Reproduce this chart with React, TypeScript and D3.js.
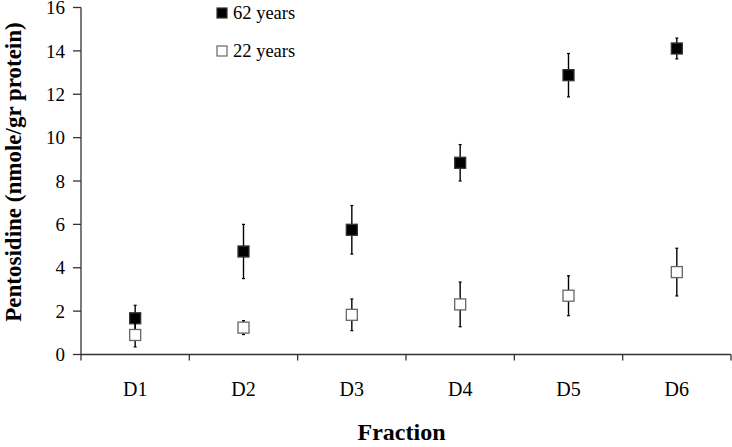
import React from "react";
import * as d3 from "d3";

const categories = ["D1", "D2", "D3", "D4", "D5", "D6"];
const old62Mean = [1.67, 4.75, 5.75, 8.84, 12.88, 14.11];
const old62Err = [0.6, 1.25, 1.12, 0.84, 1.0, 0.48];
const young22Mean = [0.9, 1.24, 1.83, 2.31, 2.71, 3.8];
const young22Err = [0.55, 0.32, 0.73, 1.03, 0.92, 1.1];
const yTicks = [0, 2, 4, 6, 8, 10, 12, 14, 16];
const legendLabels = ["62 years", "22 years"];

const W = 732;
const H = 447;
const left = 81;
const right = 731;
const top = 7.5;
const bottom = 354.5;

export default function App() {
  const x = d3.scaleBand<string>().domain(categories).range([left, right]);
  const y = d3.scaleLinear().domain([0, 16]).range([bottom, top]);
  const font = "'Liberation Serif', 'Times New Roman', serif";
  const ms = 11;
  const cap = 3;

  const series = [
    { mean: old62Mean, err: old62Err, fill: "#000", stroke: "#333" },
    { mean: young22Mean, err: young22Err, fill: "#fff", stroke: "#666" },
  ];

  return (
    <svg
      width={W}
      height={H}
      style={{ position: "absolute", left: 0, top: 0, background: "#fff" }}
      fontFamily={font}
    >
      {/* axes */}
      <line x1={left} x2={left} y1={top} y2={bottom} stroke="#333" strokeWidth={1.3} />
      <line x1={left} x2={right} y1={bottom} y2={bottom} stroke="#333" strokeWidth={1.3} />
      {yTicks.map((t) => (
        <g key={t}>
          <line x1={left - 8} x2={left} y1={y(t)} y2={y(t)} stroke="#333" strokeWidth={1.3} />
          <text x={65} y={y(t)} dy="0.35em" textAnchor="end" fontSize={19}>
            {t}
          </text>
        </g>
      ))}
      {categories.map((c) => (
        <line
          key={"t" + c}
          x1={x(c)!}
          x2={x(c)!}
          y1={bottom}
          y2={bottom + 6}
          stroke="#333"
          strokeWidth={1.3}
        />
      ))}
      <line x1={right} x2={right} y1={bottom} y2={bottom + 6} stroke="#333" strokeWidth={1.3} />
      {categories.map((c) => (
        <text
          key={"l" + c}
          x={x(c)! + x.bandwidth() / 2}
          y={396}
          textAnchor="middle"
          fontSize={20}
        >
          {c}
        </text>
      ))}
      <text x={401.5} y={440} textAnchor="middle" fontSize={24} fontWeight="bold">
        Fraction
      </text>
      <text
        transform={`translate(13,172) rotate(-90)`}
        dy="0.35em"
        textAnchor="middle"
        fontSize={23}
        fontWeight="bold"
      >
        Pentosidine (nmole/gr protein)
      </text>

      {/* data */}
      {series.map((s, si) =>
        categories.map((c, i) => {
          const cx = x(c)! + x.bandwidth() / 2;
          const m = s.mean[i];
          const e = s.err[i];
          return (
            <g key={si + c}>
              <line x1={cx} x2={cx} y1={y(m + e)} y2={y(m - e)} stroke="#000" strokeWidth={1.4} />
              <line x1={cx - cap / 2} x2={cx + cap / 2} y1={y(m + e)} y2={y(m + e)} stroke="#000" strokeWidth={1.2} />
              <line x1={cx - cap / 2} x2={cx + cap / 2} y1={y(m - e)} y2={y(m - e)} stroke="#000" strokeWidth={1.2} />
              <rect
                x={cx - ms / 2}
                y={y(m) - ms / 2}
                width={ms}
                height={ms}
                fill={s.fill}
                stroke={s.stroke}
                strokeWidth={1.3}
              />
            </g>
          );
        })
      )}

      {/* legend */}
      {legendLabels.map((l, i) => (
        <g key={l} transform={`translate(217,${13 + i * 38})`}>
          <rect
            x={0}
            y={-5}
            width={10}
            height={10}
            fill={series[i].fill}
            stroke={series[i].stroke}
            strokeWidth={1.2}
          />
          <text x={16} y={0} dy="0.35em" fontSize={18.5}>
            {l}
          </text>
        </g>
      ))}
    </svg>
  );
}
